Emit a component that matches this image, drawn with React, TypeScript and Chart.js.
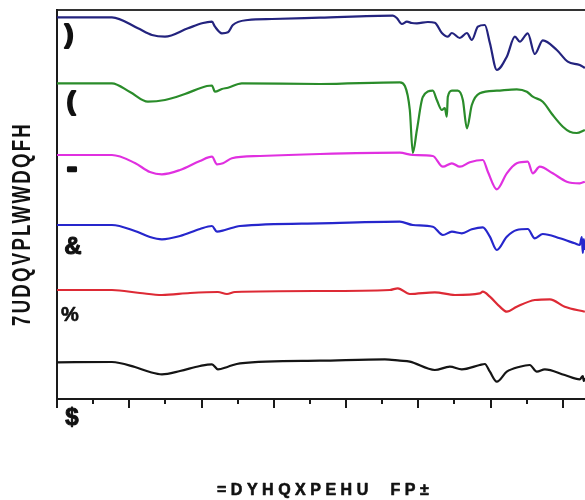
import React, { useEffect, useRef } from 'react';
import { Chart, registerables } from 'chart.js';
Chart.register(...registerables);

// Wavenumber (cm-1) and transmittance (a.u., stacked/offset) for each spectrum
const wnF = [4000, 3620, 3440, 3343, 3253, 3094, 2997, 2928, 2907, 2859, 2817, 2783, 2679, 2513, 2181, 1676, 1649, 1614, 1579, 1545, 1510, 1434, 1386, 1337, 1296, 1268, 1213, 1164, 1130, 1088, 1040, 1005, 957, 888, 832, 798, 743, 694, 639, 542, 466, 383, 348];
const tF = [381.7, 381.7, 370.7, 364, 362.3, 370.7, 375.7, 377.3, 372.3, 365.7, 366.7, 374, 379, 380, 381.3, 383.3, 381, 375, 377.3, 376, 375.7, 377, 376.3, 366, 362.3, 366, 361, 366, 359, 372.3, 374, 356, 329, 342.3, 362.3, 357.3, 365.7, 345, 358.6, 349, 337.3, 334, 331];

const wnE = [4000, 3620, 3495, 3371, 3253, 3115, 2963, 2928, 2907, 2859, 2817, 2721, 2181, 1628, 1593, 1559, 1538, 1510, 1469, 1400, 1372, 1337, 1317, 1303, 1296, 1268, 1227, 1192, 1164, 1130, 1075, 957, 819, 749, 708, 639, 570, 500, 452, 404, 348];
const tE = [315.7, 315.7, 307, 297.3, 299, 305, 313, 313.5, 307.3, 310, 311.3, 315.7, 315, 316.7, 313, 289, 246, 269, 302, 308.3, 299, 289, 291, 282.3, 302.3, 308.3, 308.3, 299, 270.7, 294, 305.7, 308.3, 309.7, 307.3, 302.3, 297.3, 284, 272.3, 267.3, 266, 269];

const wnD = [4000, 3620, 3461, 3357, 3274, 3149, 3011, 2928, 2893, 2852, 2790, 2596, 2181, 1628, 1538, 1400, 1330, 1268, 1213, 1144, 1054, 1019, 957, 888, 819, 743, 708, 660, 570, 473, 383, 348];
const tD = [244, 244, 236, 227, 224.7, 229, 238, 242.3, 234.7, 235.7, 240.7, 243, 245, 246.3, 244, 243, 232.3, 235.7, 232.3, 236.7, 239, 227.3, 209.7, 225.7, 235.7, 237.3, 225.7, 232.3, 225.7, 217.3, 215.7, 217.3];

const wnC = [4000, 3620, 3461, 3357, 3274, 3149, 3011, 2928, 2893, 2838, 2734, 2181, 1628, 1538, 1400, 1330, 1268, 1199, 1130, 1054, 1005, 957, 888, 819, 743, 694, 639, 521, 418, 383, 369, 362, 355, 348];
const tC = [174, 174, 168, 162, 159.7, 163, 170, 173, 167.3, 169, 173, 175.7, 177.3, 174, 172.3, 164, 167.3, 165.7, 169.7, 171.7, 162.3, 149, 162.3, 169, 170, 160.7, 165, 160.7, 155.7, 154, 162, 146, 160, 149];

const wnB = [4000, 3620, 3426, 3274, 3080, 2887, 2824, 2769, 2181, 1697, 1642, 1559, 1386, 1247, 1075, 1054, 1005, 936, 888, 819, 694, 590, 487, 348];
const tB = [109, 109, 106, 104, 106, 107, 105, 107, 108, 109, 110.7, 105, 106.7, 104, 105.7, 107.3, 102.3, 92.3, 87.3, 92.3, 99, 99.7, 92.3, 87.3];

const wnA = [4000, 3620, 3461, 3357, 3274, 3149, 3011, 2928, 2887, 2817, 2734, 2181, 1732, 1628, 1559, 1386, 1282, 1199, 1075, 1040, 1005, 957, 888, 798, 729, 680, 625, 487, 383, 362, 355, 348];
const tA = [36.7, 37, 32, 27, 24.7, 28, 33, 34.7, 29.7, 32.3, 35.7, 38.3, 39.7, 38.3, 37.3, 29, 32.3, 29.7, 34, 35, 27.3, 17.3, 27.3, 32.3, 34, 27.3, 29.7, 24, 19.7, 23, 18, 21];

const seriesNames = [')', '(', '-', '&', '%', '$'];
const xTitle = '=DYHQXPEHU  FP\u00B1';
const yTitle = '7UDQVPLWWDQFH';

const FONT = '"Liberation Sans", Arial, sans-serif';

const zip = (xs: number[], ys: number[]) => xs.map((x, i) => ({ x, y: ys[i] }));

const decorPlugin = {
  id: 'decor',
  afterDraw(chart: any) {
    const ctx = chart.ctx as CanvasRenderingContext2D;
    const xs = chart.scales.x;
    const area = chart.chartArea;
    ctx.save();
    // tick marks (major every 500, minor every 250)
    ctx.strokeStyle = '#1a1a1a';
    ctx.lineWidth = 2;
    xs.ticks.forEach((t: any) => {
      const px = Math.round(xs.getPixelForValue(t.value));
      const major = t.value % 500 === 0;
      ctx.beginPath();
      ctx.moveTo(px, area.bottom);
      ctx.lineTo(px, area.bottom + (major ? 9 : 5));
      ctx.stroke();
    });
    ctx.fillStyle = '#111';
    ctx.strokeStyle = '#111';
    ctx.lineJoin = 'round';
    ctx.textAlign = 'center';
    ctx.textBaseline = 'middle';
    // series labels
    const labelPos = [
      [69, 36, 26, 2], [71, 103, 26, 2], [72, 169, 30, 2.5], [73, 247, 24, 1], [70, 315, 20, 0.6], [72, 418, 24, 1],
    ];
    seriesNames.forEach((s, i) => {
      const [x, y, size, sw] = labelPos[i];
      ctx.font = `bold ${size}px ${FONT}`;
      ctx.lineWidth = sw;
      ctx.fillText(s, x, y);
      ctx.strokeText(s, x, y);
    });
    // x title
    (ctx as any).letterSpacing = '4.5px';
    ctx.font = `bold 16px ${FONT}`;
    ctx.textAlign = 'left';
    ctx.lineWidth = 0.6;
    ctx.fillText(xTitle, 217, 491);
    ctx.strokeText(xTitle, 217, 491);
    // y title (condensed bold)
    ctx.translate(22, 224);
    ctx.rotate(-Math.PI / 2);
    ctx.scale(0.72, 1);
    (ctx as any).letterSpacing = '3px';
    ctx.font = `bold 26px ${FONT}`;
    ctx.textAlign = 'center';
    ctx.fillText(yTitle, 0, 1);
    ctx.restore();
  },
};

export default function App() {
  const ref = useRef<HTMLCanvasElement>(null);
  useEffect(() => {
    if (!ref.current) return;
    const mk = (label: string, xs: number[], ys: number[], color: string) => ({
      label,
      data: zip(xs, ys),
      borderColor: color,
      backgroundColor: color,
      borderWidth: 2.2,
      pointRadius: 0,
      cubicInterpolationMode: 'monotone' as const,
      fill: false,
    });
    const chart = new Chart(ref.current, {
      type: 'line',
      data: {
        datasets: [
          mk('F', wnF, tF, '#23237e'),
          mk('E', wnE, tE, '#2a8c2a'),
          mk('D', wnD, tD, '#e030e0'),
          mk('C', wnC, tC, '#2626cc'),
          mk('B', wnB, tB, '#dd2a35'),
          mk('A', wnA, tA, '#151515'),
        ],
      },
      options: {
        animation: false,
        responsive: true,
        maintainAspectRatio: false,
        layout: { padding: { left: 57, top: 10, right: 21, bottom: 101 } },
        plugins: { legend: { display: false }, tooltip: { enabled: false }, title: { display: false } },
        scales: {
          x: {
            type: 'linear',
            reverse: true,
            min: 250,
            max: 4000,
            ticks: { display: false, stepSize: 250 },
            grid: { display: false, drawTicks: false },
            border: { display: true, color: '#1a1a1a', width: 2 },
          },
          x2: {
            type: 'linear',
            position: 'top',
            reverse: true,
            min: 250,
            max: 4000,
            ticks: { display: false },
            grid: { display: false, drawTicks: false },
            border: { display: true, color: '#333', width: 2 },
          },
          y: {
            type: 'linear',
            min: 0,
            max: 389,
            ticks: { display: false },
            grid: { display: false, drawTicks: false },
            border: { display: true, color: '#1a1a1a', width: 2 },
          },
        },
      },
      plugins: [decorPlugin],
    });
    return () => chart.destroy();
  }, []);
  return (
    <div style={{ position: 'fixed', left: 0, top: 0, width: 585, height: 500, overflow: 'hidden', background: '#fff' }}>
      <div style={{ position: 'relative', width: 620, height: 500 }}>
        <canvas ref={ref} />
      </div>
    </div>
  );
}
